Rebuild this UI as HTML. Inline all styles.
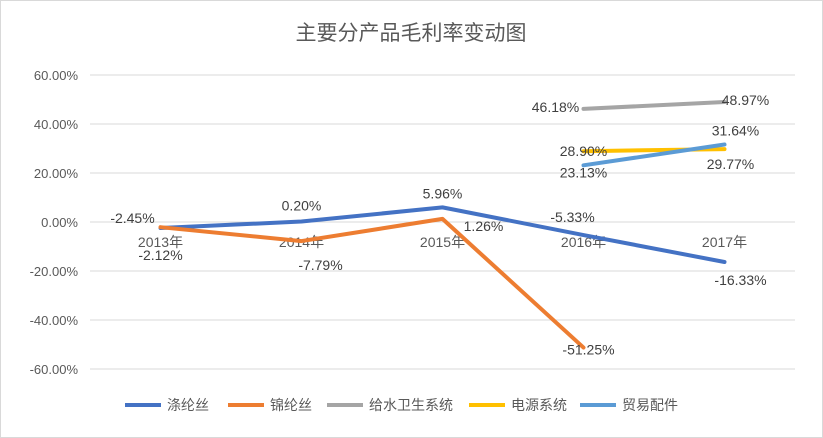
<!DOCTYPE html>
<html><head><meta charset="utf-8"><style>
body{margin:0;background:#fff;}
svg{display:block;font-family:"Liberation Sans","Noto Sans CJK SC",sans-serif;}
</style></head><body>
<svg id="c" width="823" height="438">
<rect x="0.5" y="0.5" width="822" height="437" fill="#fff" stroke="#d9d9d9"/>
<text x="411" y="40" text-anchor="middle" font-size="21" fill="#595959">主要分产品毛利率变动图</text>
<g id="grid"></g><g id="lines"></g><g id="labels"></g><g id="legend"></g>
</svg>
<script>
const categories=["2013年","2014年","2015年","2016年","2017年"];
const yTicks=[60,40,20,0,-20,-40,-60];
const seriesNames=["涤纶丝","锦纶丝","给水卫生系统","电源系统","贸易配件"];
const seriesColors=["#4472C4","#ED7D31","#A5A5A5","#FFC000","#5B9BD5"];
const s1=[-2.45,0.20,5.96,-5.33,-16.33];
const s2=[-2.12,-7.79,1.26,-51.25,null];
const s3=[null,null,null,46.18,48.97];
const s4=[null,null,null,28.90,29.77];
const s5=[null,null,null,23.13,31.64];
const allSeries=[s1,s2,s3,s4,s5];
const labelOffsets=[
 [[-28,-10],[0,-16],[0,-14],[-11,-18],[16,18]],
 [[0,28],[19,24],[41,7],[5,2],[0,0]],
 [[0,0],[0,0],[0,0],[-28,-2],[21,-2]],
 [[0,0],[0,0],[0,0],[0,0],[6,15]],
 [[0,0],[0,0],[0,0],[0,7],[11,-14]]];
const NS="http://www.w3.org/2000/svg";
const X0=90,X1=795,Y0=222,PX=49/20;
const xs=i=>X0+(X1-X0)/categories.length*(i+0.5);
const ys=v=>Y0-v*PX;
function mk(t,a,p){const e=document.createElementNS(NS,t);for(const k in a)e.setAttribute(k,a[k]);p.appendChild(e);return e;}
const g=document.getElementById('grid');
yTicks.forEach(v=>{
 const l=mk('line',{x1:X0,x2:X1,y1:ys(v),y2:ys(v),stroke:'#d9d9d9'},g);
 
 
 const t=mk('text',{x:78,y:ys(v)+5,'text-anchor':'end','font-size':13,fill:'#595959'},g);
 t.textContent=v.toFixed(2)+'%';
 
 
});
categories.forEach((c,i)=>{
 const t=mk('text',{x:xs(i),y:Y0+25,'text-anchor':'middle','font-size':14,fill:'#595959'},g);
 t.textContent=c;
 
 
});
const L=document.getElementById('lines'),LB=document.getElementById('labels');
allSeries.forEach((s,si)=>{
 let pts=[];
 s.forEach((v,i)=>{if(v!==null)pts.push(xs(i)+','+ys(v));});
 const p=mk('polyline',{points:pts.join(' '),fill:'none',stroke:seriesColors[si],'stroke-width':4,'stroke-linejoin':'round','stroke-linecap':'round'},L);
 
 
 s.forEach((v,i)=>{
  if(v===null)return;
  const o=labelOffsets[si][i];
  const t=mk('text',{x:xs(i)+o[0],y:ys(v)+o[1]+5,'text-anchor':'middle','font-size':14,fill:'#404040'},LB);
  t.textContent=v.toFixed(2)+'%';
  
  
 });
});
const LG=document.getElementById('legend');
const legX=[125,228,327,469,580];
seriesNames.forEach((n,i)=>{
 const gg=mk('g',{},LG);
 
 
 mk('line',{x1:legX[i],x2:legX[i]+36,y1:405,y2:405,stroke:seriesColors[i],'stroke-width':4},gg);
 const t=mk('text',{x:legX[i]+42,y:410,'font-size':14,fill:'#595959'},gg);
 t.textContent=n;
});
</script>
</body></html>
